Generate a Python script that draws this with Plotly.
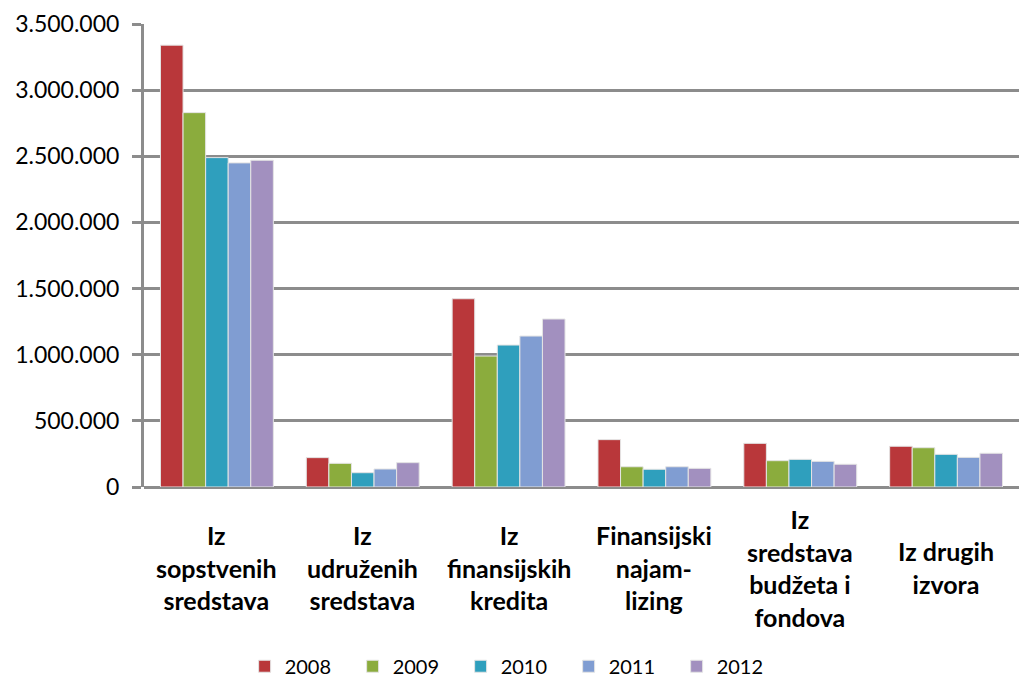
import plotly.graph_objects as go

categories = ["Iz sopstvenih sredstava", "Iz udruženih sredstava", "Iz finansijskih kredita",
              "Finansijski najam-lizing", "Iz sredstava budžeta i fondova", "Iz drugih izvora"]
category_labels = ["Iz<br>sopstvenih<br>sredstava", "Iz<br>udruženih<br>sredstava",
                   "Iz<br>finansijskih<br>kredita", "Finansijski<br>najam-<br>lizing",
                   "Iz<br>sredstava<br>budžeta i<br>fondova", "Iz drugih<br>izvora"]
years = ["2008", "2009", "2010", "2011", "2012"]
v2008 = [3340000, 222000, 1423000, 358000, 330000, 308000]
v2009 = [2830000, 179000, 990000, 153000, 199000, 297000]
v2010 = [2490000, 108000, 1073000, 134000, 209000, 247000]
v2011 = [2450000, 136000, 1141000, 153000, 194000, 224000]
v2012 = [2470000, 184000, 1270000, 141000, 172000, 255000]
series = [v2008, v2009, v2010, v2011, v2012]
colors = ["#B9373A", "#8BAC3D", "#2F9FBD", "#809DD2", "#A290BF"]
tick_vals = [0, 500000, 1000000, 1500000, 2000000, 2500000, 3000000, 3500000]

fig = go.Figure()
for name, vals, col in zip(years, series, colors):
    fig.add_trace(go.Bar(x=categories, y=vals, name=name,
                         marker=dict(color=col, line=dict(color="#E4E4E4", width=1))))

for cat, lab in zip(categories, category_labels):
    fig.add_annotation(x=cat, y=-0.174, xref="x", yref="paper", text="<b>" + lab + "</b>",
                       showarrow=False, yanchor="middle", xanchor="center", align="center",
                       font=dict(family="Lato", size=25, color="#000000"))

fig.update_layout(
    width=1022, height=687,
    margin=dict(l=144, r=3, t=24, b=200, autoexpand=False),
    paper_bgcolor="white", plot_bgcolor="white",
    barmode="group", bargap=0.226, bargroupgap=0,
    separators=",.",
    font=dict(family="Lato", size=20, color="#000000"),
    showlegend=True,
    legend=dict(orientation="h", x=0.115, xanchor="left", y=-0.345, yanchor="top",
                font=dict(family="Lato", size=20), entrywidth=63, entrywidthmode="pixels",
                itemwidth=30, tracegroupgap=0),
)
fig.update_xaxes(showticklabels=False, showline=False, showgrid=False, ticks="")
fig.update_yaxes(range=[0, 3500000], tickvals=tick_vals, tickformat=",d",
                 showgrid=True, gridcolor="#8C8C8C", gridwidth=3,
                 zeroline=True, zerolinecolor="#8C8C8C", zerolinewidth=3,
                 showline=True, linecolor="#8C8C8C", linewidth=3,
                 ticks="outside", ticklen=9, tickcolor="#8C8C8C", tickwidth=3,
                 ticklabelstandoff=8, tickfont=dict(family="Lato", size=23))

fig.write_html("out.html", config={"displayModeBar": False},
               post_script="document.body.style.margin='0';document.body.style.overflow='hidden';")
